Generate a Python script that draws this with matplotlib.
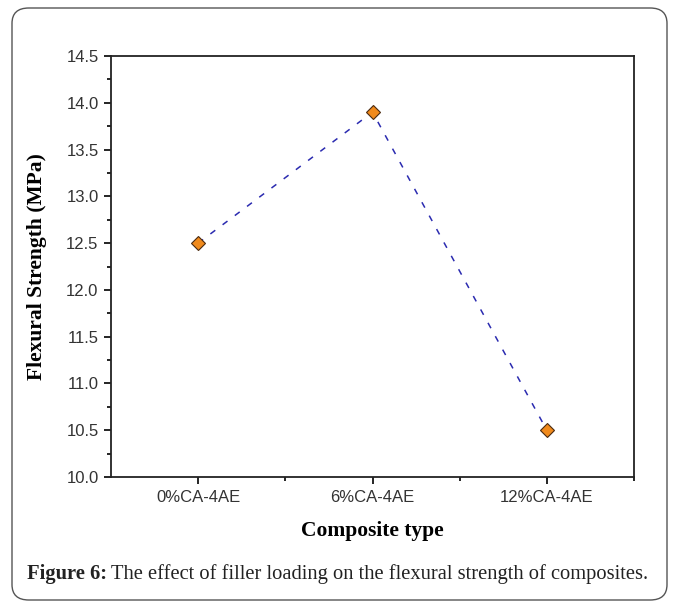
import matplotlib
matplotlib.use("Agg")
import matplotlib.pyplot as plt
from matplotlib.patches import FancyBboxPatch
from matplotlib.ticker import MultipleLocator, FixedLocator

# Flexural strength per composite formulation
composites = ["0%CA-4AE", "6%CA-4AE", "12%CA-4AE"]
strength_mpa = [12.5, 13.9, 10.5]

fig = plt.figure(figsize=(6.73, 6.15), dpi=100)

# rounded frame around chart and caption
frame = FancyBboxPatch((12 / 673, 15 / 615), 655 / 673, 592 / 615,
                       boxstyle="round,pad=0,rounding_size=0.025",
                       transform=fig.transFigure, facecolor="none",
                       edgecolor="#555555", linewidth=1.0, zorder=5)
fig.patches.append(frame)

ax = fig.add_axes([111 / 673, 138 / 615, 523 / 673, 421 / 615])
x = [1, 2, 3]
ax.plot(x, strength_mpa, linestyle=(0, (4, 6)), color="#2b2bb0", linewidth=1.1,
        marker="D", markersize=7, markerfacecolor="#f08a1c",
        markeredgecolor="#4a2a10", markeredgewidth=0.8)

ax.set_xlim(0.5, 3.5)
ax.set_ylim(10.0, 14.5)
ax.set_xticks(x)
ax.set_xticklabels(composites)
ax.xaxis.set_minor_locator(FixedLocator([1.5, 2.5, 3.5]))
ax.yaxis.set_major_locator(MultipleLocator(0.5))
ax.yaxis.set_minor_locator(MultipleLocator(0.25))
ax.yaxis.set_major_formatter(matplotlib.ticker.FormatStrFormatter("%.1f"))

tick_font = "Liberation Sans"
for lbl in ax.get_xticklabels() + ax.get_yticklabels():
    lbl.set_fontfamily(tick_font)
    lbl.set_fontsize(12)
    lbl.set_color("#333333")

ax.tick_params(which="major", direction="out", length=5, width=1.2, pad=4)
ax.tick_params(which="minor", direction="out", length=3, width=1.2)
for sp in ax.spines.values():
    sp.set_linewidth(1.3)
    sp.set_color("#222222")

ax.set_xlabel("Composite type", fontfamily="Liberation Serif", fontweight="bold",
              fontsize=15.5, labelpad=12)
ax.set_ylabel("Flexural Strength (MPa)", fontfamily="Liberation Serif",
              fontweight="bold", fontsize=15.5, labelpad=14)

# caption: bold figure number followed by regular text
fig.canvas.draw()
renderer = fig.canvas.get_renderer()
cap_y = 36 / 615
head = fig.text(27 / 673, cap_y, "Figure 6:", fontfamily="Liberation Serif",
                fontweight="bold", fontsize=14.8, color="#222222", va="baseline")
bb = head.get_window_extent(renderer=renderer)
fig.text((bb.x1 + 4) / 673, cap_y,
         "The effect of filler loading on the flexural strength of composites.",
         fontfamily="Liberation Serif", fontsize=14.8, color="#222222", va="baseline")

fig.savefig("out.png", dpi=100)
